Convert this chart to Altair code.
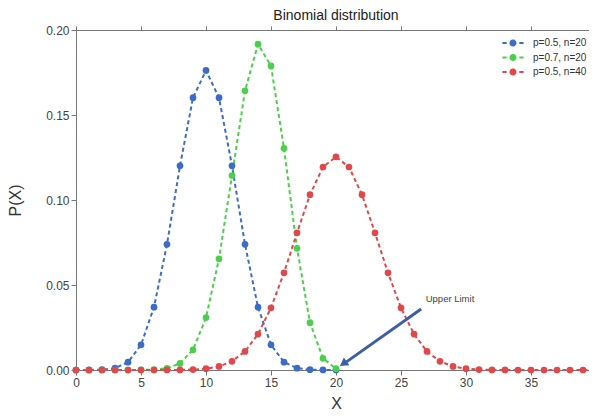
import altair as alt
import pandas as pd

# ---- data ----
x_n20 = [0, 1, 2, 3, 4, 5, 6, 7, 8, 9, 10, 11, 12, 13, 14, 15, 16, 17, 18, 19, 20]
x_n40 = [0, 1, 2, 3, 4, 5, 6, 7, 8, 9, 10, 11, 12, 13, 14, 15, 16, 17, 18, 19, 20,
         21, 22, 23, 24, 25, 26, 27, 28, 29, 30, 31, 32, 33, 34, 35, 36, 37, 38, 39, 40]

p_blue = [0.000001, 0.000019, 0.00018, 0.00109, 0.00462, 0.01479, 0.03696, 0.07393,
          0.12013, 0.16018, 0.1762, 0.16018, 0.12013, 0.07393, 0.03696, 0.01479,
          0.00462, 0.00109, 0.00018, 0.000019, 0.000001]
p_green = [0.0, 0.0, 0.0, 0.0000005, 0.000005, 0.000037, 0.00022, 0.00102, 0.00386,
           0.01192, 0.03082, 0.06537, 0.1144, 0.16426, 0.19164, 0.17886, 0.13042,
           0.0716, 0.02785, 0.00684, 0.0008]
p_red = [0.0, 0.0, 0.0, 0.0, 0.0000001, 0.0000006, 0.0000035, 0.000017, 0.00007,
         0.00025, 0.00077, 0.0021, 0.00508, 0.01094, 0.02111, 0.03658, 0.05716,
         0.0807, 0.10312, 0.1194, 0.12537, 0.1194, 0.10312, 0.0807, 0.05716, 0.03658,
         0.02111, 0.01094, 0.00508, 0.0021, 0.00077, 0.00025, 0.00007, 0.000017,
         0.0000035, 0.0000006, 0.0000001, 0.0, 0.0, 0.0, 0.0]

series_names = ["p=0.5, n=20", "p=0.7, n=20", "p=0.5, n=40"]
series_colors = ["#3d6cc8", "#4ccf4c", "#e0484b"]

x_ticks = [0, 5, 10, 15, 20, 25, 30, 35, 40]
y_ticks = [0.0, 0.05, 0.10, 0.15, 0.20]

# annotation (data coordinates)
note_x = [26.9]
note_y = [0.0418]
note_text = ["Upper Limit"]
arrow_x = [26.55]
arrow_y = [0.0359]
arrow_x2 = [20.75]
arrow_y2 = [0.0045]
head_x = [20.56]
head_y = [0.0037]

# ---- build table ----
rows = []
for name, xs, ys in zip(series_names, [x_n20, x_n20, x_n40], [p_blue, p_green, p_red]):
    for xv, yv in zip(xs, ys):
        rows.append({"x": xv, "p": yv, "series": name})
df = pd.DataFrame(rows)

FONT = "Liberation Sans"
xscale = alt.Scale(domain=[0, 40], nice=False, zero=False)
yscale = alt.Scale(domain=[0, 0.2], nice=False)
cscale = alt.Scale(domain=series_names, range=series_colors)

legend_symbol = ("M-3.2,0H-1.9M1.9,0H3.2"
                 "M0.75,0A0.75,0.75,0,1,1,-0.75,0A0.75,0.75,0,1,1,0.75,0"
                 "M0.25,0A0.25,0.25,0,1,1,-0.25,0A0.25,0.25,0,1,1,0.25,0")

lines = alt.Chart(df).mark_line(strokeDash=[4, 3], strokeWidth=2).encode(
    x=alt.X("x:Q", scale=xscale,
            axis=alt.Axis(values=x_ticks, title="X", tickSize=5, labelPadding=2,
                          titlePadding=7, labelFlush=False)),
    y=alt.Y("p:Q", scale=yscale,
            axis=alt.Axis(values=y_ticks, format=".2f", title="P(X)", tickSize=5,
                          labelPadding=2, titlePadding=22)),
    color=alt.Color("series:N", scale=cscale, sort=series_names,
                    legend=alt.Legend(title=None, orient="none", legendX=432, legendY=8,
                                      symbolType=legend_symbol, symbolSize=44,
                                      symbolStrokeWidth=2, symbolDash=[1, 0],
                                      labelFontSize=10, labelFont=FONT, labelColor="#333",
                                      labelOffset=15, rowPadding=0.5)),
    detail="series:N",
)

points = alt.Chart(df).mark_circle(size=45, opacity=1).encode(
    x=alt.X("x:Q", scale=xscale,
            axis=alt.Axis(orient="top", values=x_ticks, labels=False, title=None,
                          tickSize=4)),
    y=alt.Y("p:Q", scale=yscale),
    color=alt.Color("series:N", scale=cscale, sort=series_names, legend=None),
)

note = alt.Chart(pd.DataFrame({"x": note_x, "y": note_y, "t": note_text})).mark_text(
    align="left", baseline="middle", fontSize=9.5, font=FONT, color="#444"
).encode(x=alt.X("x:Q", scale=xscale, axis=None), y=alt.Y("y:Q", scale=yscale), text="t:N")

arrow = alt.Chart(pd.DataFrame({"x": arrow_x, "y": arrow_y, "x2": arrow_x2, "y2": arrow_y2})).mark_rule(
    color="#3f5ea8", strokeWidth=3
).encode(x=alt.X("x:Q", scale=xscale, axis=None), y=alt.Y("y:Q", scale=yscale), x2="x2:Q", y2="y2:Q")

head = alt.Chart(pd.DataFrame({"x": head_x, "y": head_y})).mark_point(
    shape="triangle-up", filled=True, size=90, color="#3f5ea8", opacity=1, angle=234.5
).encode(x=alt.X("x:Q", scale=xscale, axis=None), y=alt.Y("y:Q", scale=yscale))

chart = alt.layer(lines, points, arrow, head, note).resolve_axis(
    x="independent"
).properties(
    width=520, height=340,
    autosize=alt.AutoSizeParams(type="none"),
    padding={"left": 68, "top": 22, "right": -7, "bottom": 41},
    title=alt.Title("Binomial distribution", fontSize=14, fontWeight="normal",
                    font=FONT, color="#222", offset=1),
).configure_view(
    stroke="#888", strokeWidth=1
).configure_axis(
    labelFont=FONT, labelFontSize=12, labelColor="#444",
    titleFont=FONT, titleFontSize=16, titleFontWeight="normal", titleColor="#333",
    domainColor="#777", tickColor="#777", grid=False,
)

chart.save("out.html", embed_options={"renderer": "svg", "actions": False})
